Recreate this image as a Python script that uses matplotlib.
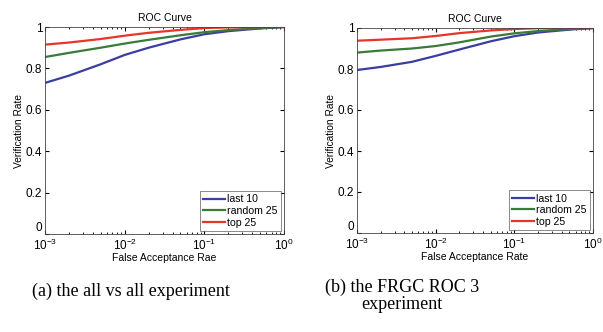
import numpy as np
import matplotlib
matplotlib.use('Agg')
import matplotlib.pyplot as plt

plt.rcParams['font.family'] = ['Liberation Sans', 'DejaVu Sans']
plt.rcParams['mathtext.fontset'] = 'custom'
plt.rcParams['mathtext.rm'] = 'Liberation Sans'

far = [1e-3, 2e-3, 5e-3, 1e-2, 2e-2, 5e-2, 1e-1, 2e-1, 5e-1, 1.0]

# (a) all vs all
a_last10 = [0.730, 0.765, 0.820, 0.865, 0.900, 0.940, 0.965, 0.980, 0.993, 1.0]
a_random25 = [0.855, 0.875, 0.900, 0.920, 0.938, 0.960, 0.975, 0.985, 0.995, 1.0]
a_top25 = [0.915, 0.925, 0.942, 0.958, 0.972, 0.986, 0.995, 0.998, 1.0, 1.0]

# (b) FRGC ROC 3
b_last10 = [0.795, 0.810, 0.835, 0.864, 0.895, 0.935, 0.960, 0.978, 0.992, 1.0]
b_random25 = [0.880, 0.890, 0.900, 0.912, 0.930, 0.958, 0.974, 0.985, 0.995, 1.0]
b_top25 = [0.938, 0.943, 0.950, 0.961, 0.975, 0.988, 0.995, 0.999, 1.0, 1.0]

labels = ['last 10', 'random 25', 'top 25']
colors = ['#3a3ea0', '#3a7a3a', '#e8352a']
xlabels = ['False Acceptance Rae', 'False Acceptance Rate']
captions = ['(a) the all vs all experiment', '(b) the FRGC ROC 3\nexperiment']

fig = plt.figure(figsize=(6.03, 3.32), dpi=100)
W, H = 603., 332.
boxes = [(45, 27, 284, 234), (357, 28, 593, 233)]
data = [(a_last10, a_random25, a_top25), (b_last10, b_random25, b_top25)]

for i in range(2):
    x0, y0, x1, y1 = boxes[i]
    ax = fig.add_axes([x0 / W, 1 - y1 / H, (x1 - x0) / W, (y1 - y0) / H])
    for j in range(3):
        ax.plot(far, data[i][j], color=colors[j], lw=1.6, label=labels[j])
    ax.set_xscale('log')
    ax.set_xlim(1e-3, 1)
    ax.set_ylim(0, 1)
    ax.set_yticks([0, 0.2, 0.4, 0.6, 0.8, 1])
    ax.set_yticklabels(['0', '0.2', '0.4', '0.6', '0.8', '1'])
    ax.tick_params(which='both', direction='in', top=True, right=True, labelsize=8.5)
    ax.tick_params(axis='x', pad=3)
    ax.tick_params(axis='y', pad=2)
    for lab in ax.get_yticklabels():
        if lab.get_text() == '0':
            lab.set_va('bottom')
    ax.tick_params(which='major', length=3)
    ax.tick_params(which='minor', length=1.5)
    for s in ax.spines.values():
        s.set_linewidth(0.6)
        s.set_color('#444444')
    ax.set_title('ROC Curve', fontsize=7.5, pad=4)
    ax.set_xlabel(xlabels[i], fontsize=7.5, labelpad=0)
    ax.set_ylabel('Verification Rate', fontsize=7.3, labelpad=1)
    leg = ax.legend(loc='lower right', fontsize=7.6, frameon=True, fancybox=False,
                    borderpad=0.3, handlelength=2.1, handletextpad=0.2, labelspacing=0.15,
                    borderaxespad=0.3)
    leg.get_frame().set_edgecolor('#555555')
    leg.get_frame().set_linewidth(0.6)

fig.text(131 / W, 1 - 291 / H, captions[0], fontsize=13, family='Liberation Serif',
         ha='center', va='center')
fig.text(402 / W, 1 - 296 / H, captions[1], fontsize=13, family='Liberation Serif',
         ha='center', va='center', multialignment='center', linespacing=1.0)

plt.savefig('out.png', dpi=100)
